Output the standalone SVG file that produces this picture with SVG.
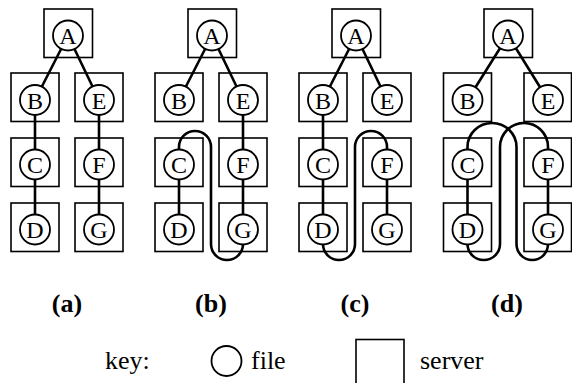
<svg xmlns="http://www.w3.org/2000/svg" width="572" height="383" viewBox="0 0 572 383">
  <style>
    .server { fill: none; stroke: #000; stroke-width: 1.6; }
    .file { fill: #fff; stroke: #000; stroke-width: 1.8; }
    .edge { fill: none; stroke: #000; stroke-width: 2.6; stroke-linecap: round; }
    .lbl { font-family: "Liberation Serif", "Times New Roman", serif; font-size: 24px; text-anchor: middle; fill: #000; }
    .cap { font-family: "Liberation Serif", "Times New Roman", serif; font-size: 26px; font-weight: bold; text-anchor: middle; fill: #000; }
    .key { font-family: "Liberation Serif", "Times New Roman", serif; font-size: 26px; fill: #000; }
  </style>

  <!-- connectors: tree edges and migration paths -->
  <g id="connectors">
    <!-- (a) -->
    <line class="edge" x1="68" y1="35.5" x2="35" y2="100"/>
    <line class="edge" x1="68" y1="35.5" x2="99" y2="100"/>
    <line class="edge" x1="35" y1="100" x2="35" y2="229.5"/>
    <line class="edge" x1="99" y1="100" x2="99" y2="229.5"/>
    <!-- (b) -->
    <line class="edge" x1="212" y1="35.5" x2="179" y2="100"/>
    <line class="edge" x1="212" y1="35.5" x2="243" y2="100"/>
    <line class="edge" x1="179" y1="164.5" x2="179" y2="229.5"/>
    <line class="edge" x1="243" y1="100" x2="243" y2="229.5"/>
    <path class="edge" d="M179,149.5 V147 A16,16 0 0 1 211,147 V244 A16,16 0 0 0 243,244"/>
    <!-- (c) -->
    <line class="edge" x1="356" y1="35.5" x2="323" y2="100"/>
    <line class="edge" x1="356" y1="35.5" x2="387" y2="100"/>
    <line class="edge" x1="323" y1="100" x2="323" y2="229.5"/>
    <line class="edge" x1="387" y1="164.5" x2="387" y2="229.5"/>
    <path class="edge" d="M387,149.5 V147 A16,16 0 0 0 355,147 V244 A16,16 0 0 1 323,244"/>
    <!-- (d) -->
    <line class="edge" x1="508" y1="35.5" x2="467.5" y2="100"/>
    <line class="edge" x1="508" y1="35.5" x2="548" y2="100"/>
    <line class="edge" x1="467.5" y1="164.5" x2="467.5" y2="229.5"/>
    <line class="edge" x1="548" y1="164.5" x2="548" y2="229.5"/>
    <path class="edge" d="M467.5,149.5 V147 A24.5,24 0 0 1 516.5,147 V244 A15.75,16 0 0 0 548,244"/>
    <path class="edge" d="M548,149.5 V147 A24,24 0 0 0 500,147 V244 A16.25,16 0 0 1 467.5,244"/>
  </g>

  <!-- panel (a) -->
  <g id="a-A"><rect class="server" x="44" y="9" width="48.5" height="48.5"/><circle class="file" cx="68" cy="35.5" r="15"/><text class="lbl" x="68" y="44">A</text></g>
  <g id="a-B"><rect class="server" x="11" y="73" width="48" height="48.5"/><circle class="file" cx="35" cy="100" r="15"/><text class="lbl" x="35" y="108.5">B</text></g>
  <g id="a-E"><rect class="server" x="75" y="73" width="48" height="48.5"/><circle class="file" cx="99" cy="100" r="15"/><text class="lbl" x="99" y="108.5">E</text></g>
  <g id="a-C"><rect class="server" x="11" y="138" width="48" height="48.5"/><circle class="file" cx="35" cy="164.5" r="15"/><text class="lbl" x="35" y="173">C</text></g>
  <g id="a-F"><rect class="server" x="75" y="138" width="48" height="48.5"/><circle class="file" cx="99" cy="164.5" r="15"/><text class="lbl" x="99" y="173">F</text></g>
  <g id="a-D"><rect class="server" x="11" y="203" width="48" height="48.5"/><circle class="file" cx="35" cy="229.5" r="15"/><text class="lbl" x="35" y="238">D</text></g>
  <g id="a-G"><rect class="server" x="75" y="203" width="48" height="48.5"/><circle class="file" cx="99" cy="229.5" r="15"/><text class="lbl" x="99" y="238">G</text></g>

  <!-- panel (b) -->
  <g id="b-A"><rect class="server" x="188" y="9" width="48.5" height="48.5"/><circle class="file" cx="212" cy="35.5" r="15"/><text class="lbl" x="212" y="44">A</text></g>
  <g id="b-B"><rect class="server" x="155" y="73" width="48" height="48.5"/><circle class="file" cx="179" cy="100" r="15"/><text class="lbl" x="179" y="108.5">B</text></g>
  <g id="b-E"><rect class="server" x="219" y="73" width="48" height="48.5"/><circle class="file" cx="243" cy="100" r="15"/><text class="lbl" x="243" y="108.5">E</text></g>
  <g id="b-C"><rect class="server" x="155" y="138" width="48" height="48.5"/><circle class="file" cx="179" cy="164.5" r="15"/><text class="lbl" x="179" y="173">C</text></g>
  <g id="b-F"><rect class="server" x="219" y="138" width="48" height="48.5"/><circle class="file" cx="243" cy="164.5" r="15"/><text class="lbl" x="243" y="173">F</text></g>
  <g id="b-D"><rect class="server" x="155" y="203" width="48" height="48.5"/><circle class="file" cx="179" cy="229.5" r="15"/><text class="lbl" x="179" y="238">D</text></g>
  <g id="b-G"><rect class="server" x="219" y="203" width="48" height="48.5"/><circle class="file" cx="243" cy="229.5" r="15"/><text class="lbl" x="243" y="238">G</text></g>

  <!-- panel (c) -->
  <g id="c-A"><rect class="server" x="332" y="9" width="48.5" height="48.5"/><circle class="file" cx="356" cy="35.5" r="15"/><text class="lbl" x="356" y="44">A</text></g>
  <g id="c-B"><rect class="server" x="299" y="73" width="48" height="48.5"/><circle class="file" cx="323" cy="100" r="15"/><text class="lbl" x="323" y="108.5">B</text></g>
  <g id="c-E"><rect class="server" x="363" y="73" width="48" height="48.5"/><circle class="file" cx="387" cy="100" r="15"/><text class="lbl" x="387" y="108.5">E</text></g>
  <g id="c-C"><rect class="server" x="299" y="138" width="48" height="48.5"/><circle class="file" cx="323" cy="164.5" r="15"/><text class="lbl" x="323" y="173">C</text></g>
  <g id="c-F"><rect class="server" x="363" y="138" width="48" height="48.5"/><circle class="file" cx="387" cy="164.5" r="15"/><text class="lbl" x="387" y="173">F</text></g>
  <g id="c-D"><rect class="server" x="299" y="203" width="48" height="48.5"/><circle class="file" cx="323" cy="229.5" r="15"/><text class="lbl" x="323" y="238">D</text></g>
  <g id="c-G"><rect class="server" x="363" y="203" width="48" height="48.5"/><circle class="file" cx="387" cy="229.5" r="15"/><text class="lbl" x="387" y="238">G</text></g>

  <!-- panel (d) -->
  <g id="d-A"><rect class="server" x="484" y="9" width="48.5" height="48.5"/><circle class="file" cx="508" cy="35.5" r="15"/><text class="lbl" x="508" y="44">A</text></g>
  <g id="d-B"><rect class="server" x="443.5" y="73" width="48" height="48.5"/><circle class="file" cx="467.5" cy="100" r="15"/><text class="lbl" x="467.5" y="108.5">B</text></g>
  <g id="d-E"><rect class="server" x="524" y="73" width="47.5" height="48.5"/><circle class="file" cx="548" cy="100" r="15"/><text class="lbl" x="548" y="108.5">E</text></g>
  <g id="d-C"><rect class="server" x="443.5" y="138" width="48" height="48.5"/><circle class="file" cx="467.5" cy="164.5" r="15"/><text class="lbl" x="467.5" y="173">C</text></g>
  <g id="d-F"><rect class="server" x="524" y="138" width="47.5" height="48.5"/><circle class="file" cx="548" cy="164.5" r="15"/><text class="lbl" x="548" y="173">F</text></g>
  <g id="d-D"><rect class="server" x="443.5" y="203" width="48" height="48.5"/><circle class="file" cx="467.5" cy="229.5" r="15"/><text class="lbl" x="467.5" y="238">D</text></g>
  <g id="d-G"><rect class="server" x="524" y="203" width="47.5" height="48.5"/><circle class="file" cx="548" cy="229.5" r="15"/><text class="lbl" x="548" y="238">G</text></g>

  <!-- panel captions -->
  <g id="captions">
    <text class="cap" x="67" y="312">(a)</text>
    <text class="cap" x="211" y="312">(b)</text>
    <text class="cap" x="355" y="312">(c)</text>
    <text class="cap" x="507" y="312">(d)</text>
  </g>

  <!-- legend -->
  <g id="legend">
    <text class="key" x="105" y="369">key:</text>
    <circle class="file" cx="226.5" cy="361" r="15"/>
    <text class="key" x="251" y="369">file</text>
    <rect class="server" x="356" y="339.5" width="48" height="48"/>
    <text class="key" x="420" y="369">server</text>
  </g>
</svg>
